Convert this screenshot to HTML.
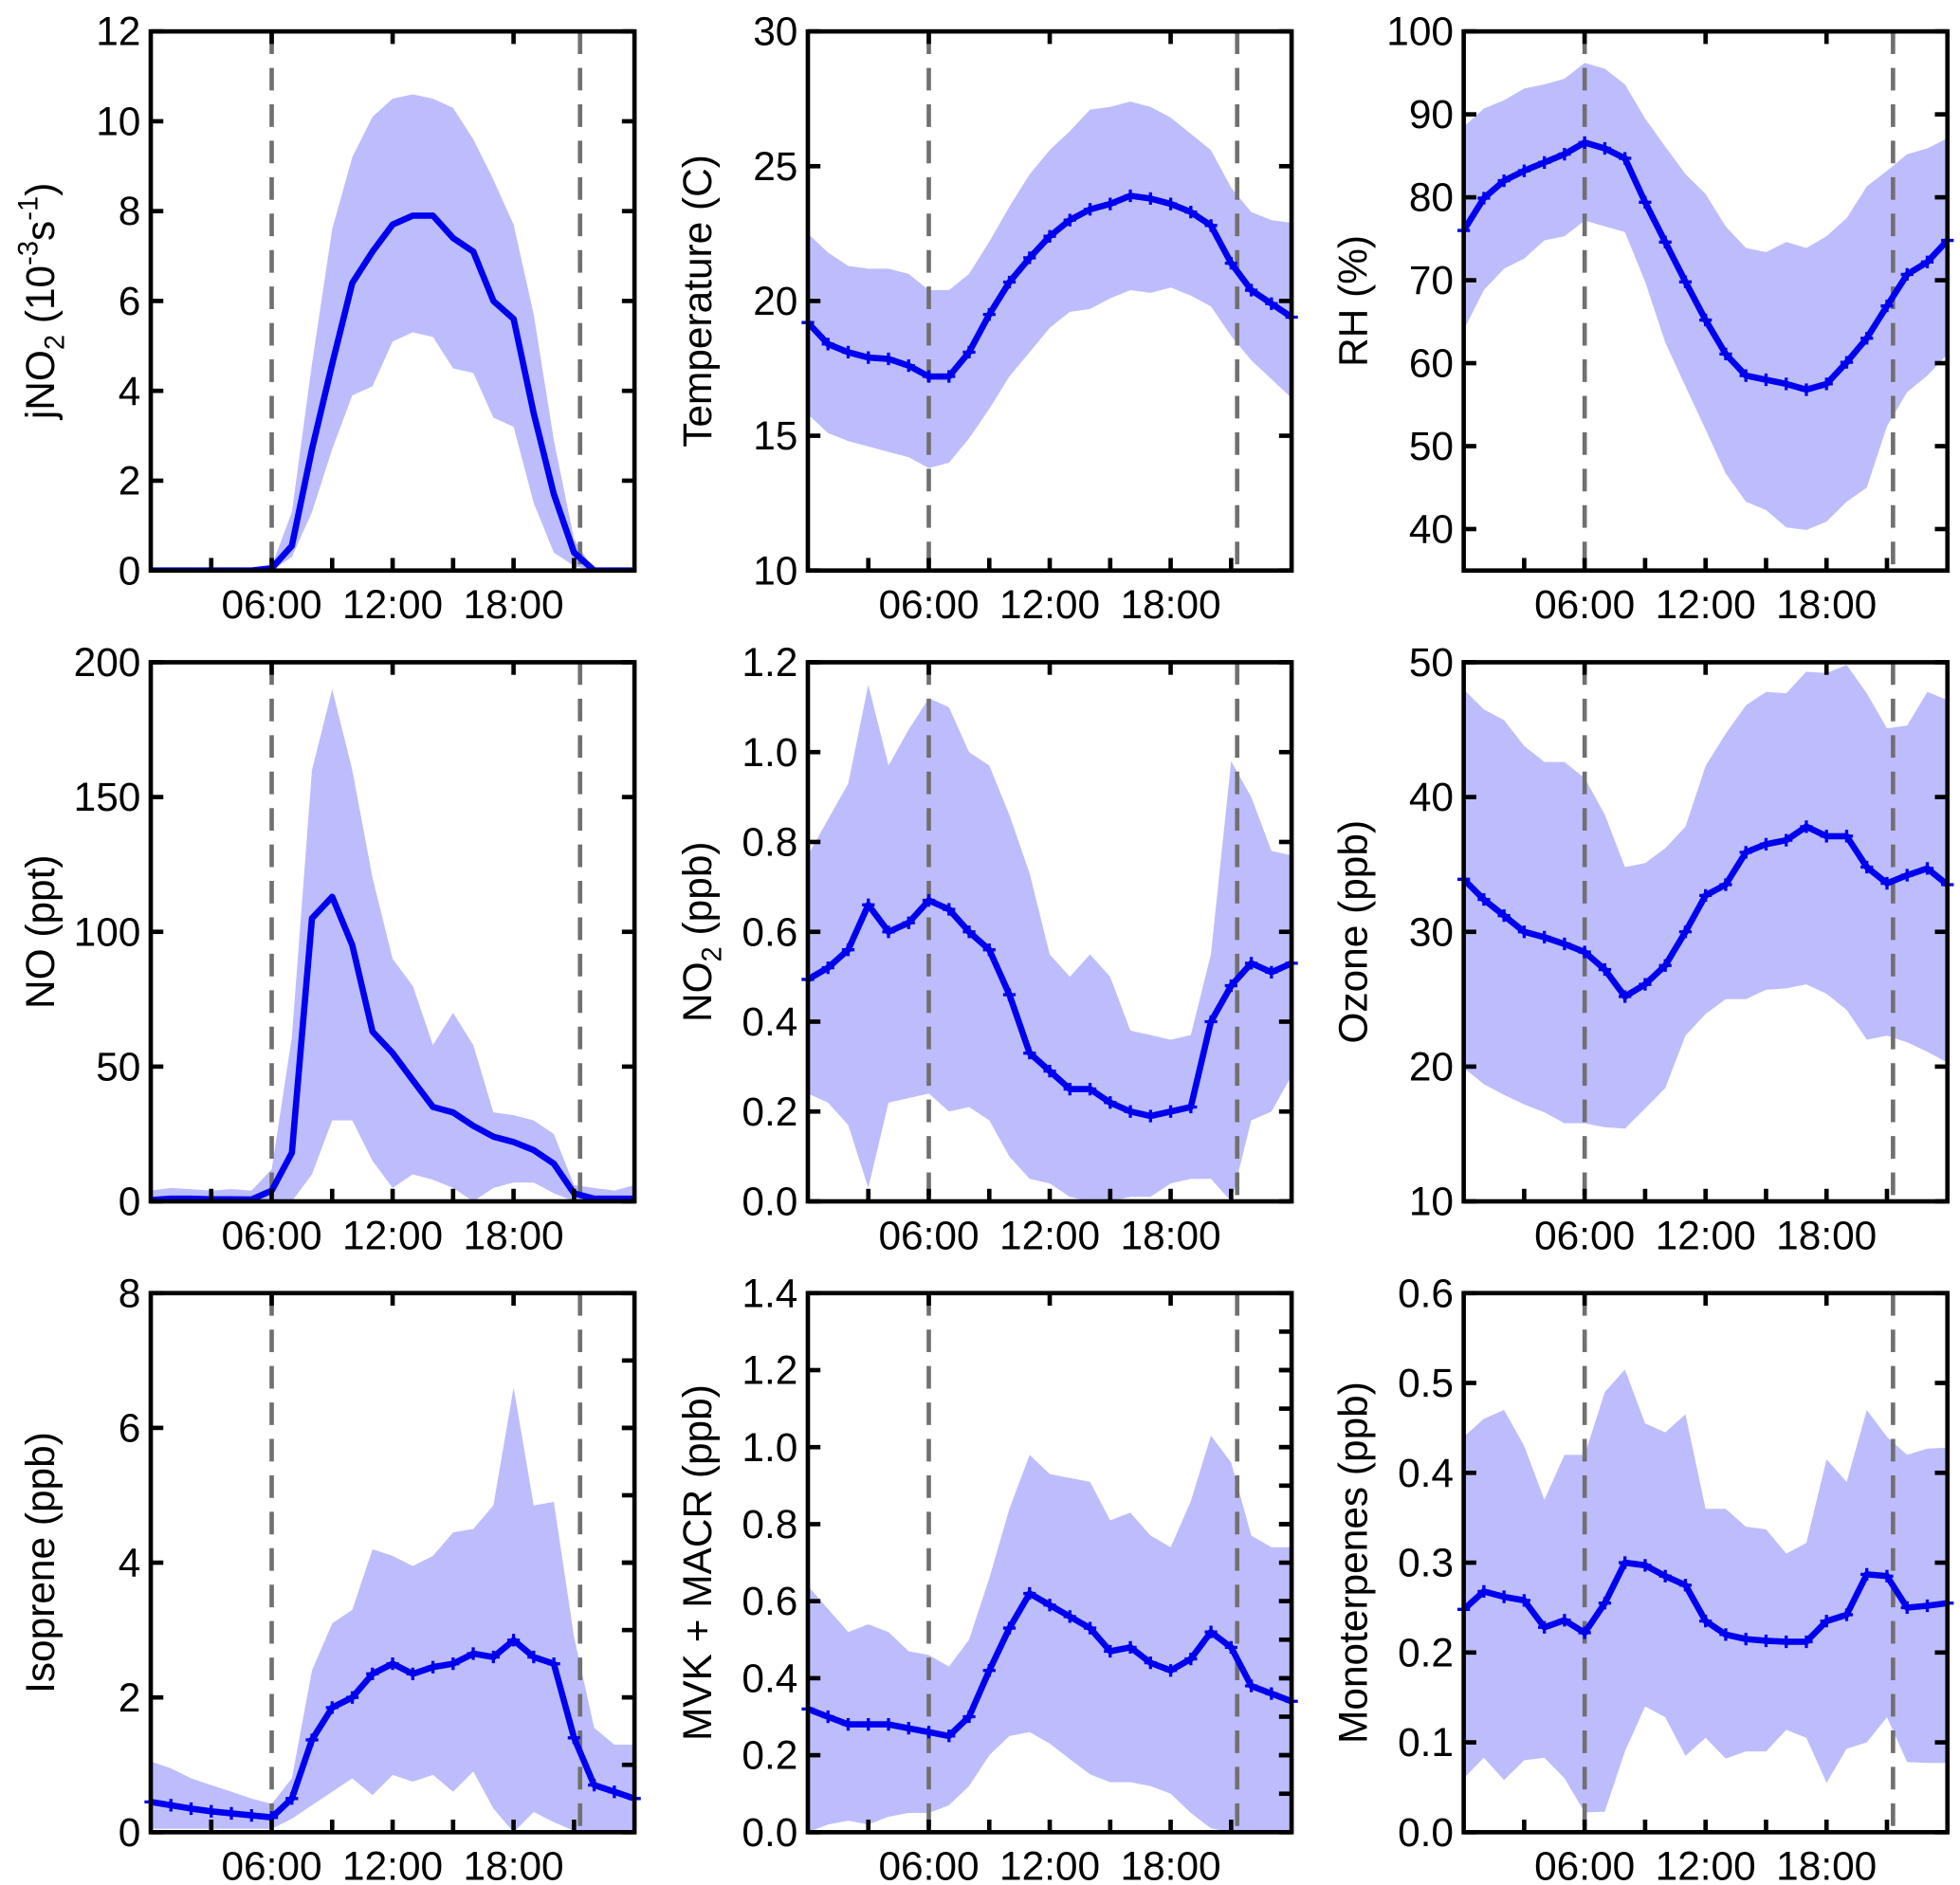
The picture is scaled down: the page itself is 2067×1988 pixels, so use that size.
<!DOCTYPE html>
<html><head><meta charset="utf-8"><title>Diurnal profiles</title>
<style>
html,body{margin:0;padding:0;background:#fff;}
svg{display:block;}
text{font-family:"Liberation Sans",Arial,sans-serif;fill:#000;}
</style></head>
<body>
<svg id="fig" xmlns="http://www.w3.org/2000/svg" width="2067" height="1988" viewBox="0 0 1560 1500" preserveAspectRatio="none"></svg>
<script>
// ---- data (hourly, 0..24 h) ----
const hours = [0,1,2,3,4,5,6,7,8,9,10,11,12,13,14,15,16,17,18,19,20,21,22,23,24];
const xTickLabels = ["06:00","12:00","18:00"];
const xTickHours = [6,12,18];
const sunLines = [6.0, 21.3];

const jno2Mean = [0,0,0,0,0,0,0.05,0.55,2.7,4.6,6.4,7.1,7.7,7.9,7.9,7.4,7.1,6.0,5.6,3.5,1.7,0.4,0,0,0];
const jno2Up   = [0,0,0,0,0,0,0.1,1.3,4.6,7.6,9.2,10.1,10.5,10.6,10.5,10.3,9.6,8.7,7.7,5.7,2.9,0.7,0,0,0];
const jno2Lo   = [0,0,0,0,0,0,0,0.3,1.3,2.7,3.9,4.1,5.1,5.3,5.2,4.5,4.4,3.4,3.2,1.5,0.4,0.1,0,0,0];

const tempMean = [19.2,18.4,18.1,17.9,17.85,17.6,17.2,17.2,18.1,19.5,20.7,21.6,22.4,23.0,23.4,23.6,23.9,23.8,23.6,23.3,22.8,21.4,20.4,19.9,19.4];
const tempUp   = [22.5,21.8,21.3,21.2,21.2,21.0,20.4,20.4,21.0,22.2,23.5,24.7,25.6,26.3,27.1,27.2,27.4,27.2,26.8,26.2,25.6,24.2,23.3,23.0,22.9];
const tempLo   = [15.8,15.1,14.8,14.6,14.4,14.2,13.8,14.0,14.9,16.0,17.2,18.1,19.0,19.6,19.7,20.1,20.4,20.3,20.5,20.2,19.8,18.7,17.8,17.1,16.4];

const rhMean = [76.0,79.9,82.0,83.2,84.2,85.2,86.6,85.9,84.7,79.4,74.6,69.8,65.2,61.1,58.5,58.0,57.5,56.8,57.5,60.1,63.0,66.9,70.7,72.2,74.8];
const rhUp   = [88.5,90.7,91.7,93.1,93.6,94.3,96.2,95.5,93.6,89.5,86.1,82.8,80.4,76.5,73.9,73.4,74.6,73.9,75.3,77.5,81.3,83.2,85.2,85.9,87.1];
const rhLo   = [64.0,68.8,71.4,72.6,74.8,75.3,77.2,76.5,75.8,69.8,62.5,57.2,52.0,46.7,43.3,42.3,40.2,39.9,40.9,43.3,45.0,52.4,56.5,58.5,61.1];

const noMean = [0.5,1,1,0.8,0.8,0.7,4,18,105,113,95,63,55,45,35,33,28,24,22,19,14,3,1,1,1];
const noUp   = [4,5,4.5,4,4.5,4,12,61,160,190,160,120,90,80,58,70,58,33,32,30,25,6,5,4,6];
const noLo   = [0,0,0,0,0,0,0,0,10,30,30,15,5,10,8,5,0,5,7,7,3,0,0,0,0];

const no2Mean = [0.494,0.52,0.56,0.66,0.60,0.62,0.67,0.65,0.60,0.56,0.46,0.33,0.29,0.25,0.25,0.22,0.20,0.19,0.20,0.21,0.40,0.48,0.53,0.51,0.53];
const no2Up   = [0.77,0.85,0.93,1.15,0.97,1.05,1.12,1.10,1.0,0.97,0.86,0.73,0.55,0.50,0.55,0.50,0.38,0.37,0.36,0.37,0.55,0.98,0.90,0.78,0.77];
const no2Lo   = [0.24,0.22,0.17,0.03,0.22,0.23,0.24,0.20,0.21,0.18,0.10,0.05,0.04,0.01,0.0,0.0,0.01,0.01,0.04,0.05,0.05,0.0,0.18,0.20,0.28];

const o3Mean = [33.9,32.4,31.2,30.0,29.6,29.1,28.5,27.2,25.2,26.1,27.5,30.0,32.7,33.5,35.9,36.5,36.8,37.8,37.1,37.1,34.8,33.6,34.2,34.7,33.5];
const o3Up   = [48.0,46.5,45.7,43.8,42.6,42.6,41.4,38.7,34.8,35.1,36.2,37.8,42.3,44.7,46.8,47.8,47.7,49.3,49.2,49.8,47.7,45.1,45.3,47.8,47.2];
const o3Lo   = [19.9,18.7,17.9,17.2,16.6,15.8,15.8,15.5,15.4,16.9,18.4,22.3,23.9,25.0,25.0,25.7,25.8,26.1,25.4,24.2,22.0,22.3,21.8,21.1,20.3];

const isoMean = [0.45,0.40,0.35,0.31,0.28,0.25,0.22,0.5,1.37,1.85,2.0,2.35,2.5,2.35,2.45,2.5,2.65,2.6,2.85,2.6,2.5,1.4,0.7,0.6,0.5];
const isoUp   = [1.05,0.95,0.8,0.7,0.6,0.5,0.42,0.8,2.4,3.1,3.3,4.2,4.1,3.95,4.1,4.45,4.5,4.85,6.6,4.85,4.9,2.9,1.55,1.3,1.3];
const isoLo   = [0.05,0.05,0.05,0.05,0.05,0.05,0.05,0.2,0.4,0.6,0.8,0.55,0.85,0.75,0.85,0.6,0.9,0.35,0,0.3,0.15,0.02,0,0,0];

const mvkMean = [0.32,0.30,0.28,0.28,0.28,0.27,0.26,0.25,0.30,0.42,0.53,0.62,0.59,0.56,0.53,0.47,0.48,0.44,0.42,0.45,0.52,0.48,0.38,0.36,0.34];
const mvkUp   = [0.64,0.58,0.52,0.54,0.52,0.47,0.46,0.43,0.50,0.66,0.84,0.98,0.93,0.92,0.91,0.81,0.83,0.77,0.74,0.86,1.03,0.96,0.77,0.74,0.74];
const mvkLo   = [0.0,0.02,0.03,0.02,0.04,0.05,0.05,0.07,0.12,0.20,0.25,0.26,0.23,0.19,0.15,0.13,0.13,0.12,0.10,0.05,0.01,0.0,0,0,0];

const mtMean = [0.248,0.268,0.262,0.258,0.228,0.236,0.222,0.255,0.30,0.297,0.285,0.275,0.235,0.22,0.215,0.213,0.212,0.212,0.235,0.242,0.287,0.285,0.25,0.252,0.255];
const mtUp   = [0.44,0.46,0.47,0.43,0.37,0.42,0.42,0.49,0.515,0.455,0.445,0.465,0.36,0.36,0.34,0.337,0.31,0.322,0.415,0.39,0.47,0.44,0.42,0.427,0.428];
const mtLo   = [0.06,0.083,0.058,0.08,0.083,0.06,0.022,0.023,0.09,0.14,0.128,0.085,0.105,0.082,0.09,0.09,0.114,0.105,0.055,0.093,0.1,0.128,0.078,0.077,0.077];

const jno2Ticks = [0,2,4,6,8,10,12];
const tempTicks = [10,15,20,25,30];
const rhTicks = [40,50,60,70,80,90,100];
const noTicks = [0,50,100,150,200];
const no2Ticks = [0,0.2,0.4,0.6,0.8,1.0,1.2];
const o3Ticks = [10,20,30,40,50];
const isoTicks = [0,2,4,6,8];
const mvkTicks = [0,0.2,0.4,0.6,0.8,1.0,1.2,1.4];
const mtTicks = [0,0.1,0.2,0.3,0.4,0.5,0.6];

const NS = "http://www.w3.org/2000/svg";
const svg = document.getElementById("fig");
function mk(tag, attrs, parent){
  const e = document.createElementNS(NS, tag);
  for (const k in attrs) e.setAttribute(k, attrs[k]);
  (parent||svg).appendChild(e);
  return e;
}

const colX = [120, 643, 1165];
const rowY = [25, 527, 1029];
const W = 385, H = 429;
const X0 = 0, X1 = 24;
const FS = 32;

const panels = [
  {id:"jno2", c:0,r:0, mean:jno2Mean, up:jno2Up, lo:jno2Lo, ymin:0, ymax:12, ticks:jno2Ticks, dec:0, markers:false, minor:null, title:"jno2"},
  {id:"temperature", c:1,r:0, mean:tempMean, up:tempUp, lo:tempLo, ymin:10, ymax:30, ticks:tempTicks, dec:0, markers:true, minor:null, title:"Temperature (C)"},
  {id:"rh", c:2,r:0, mean:rhMean, up:rhUp, lo:rhLo, ymin:35, ymax:100, ticks:rhTicks, dec:0, markers:true, minor:null, title:"RH (%)"},
  {id:"no", c:0,r:1, mean:noMean, up:noUp, lo:noLo, ymin:0, ymax:200, ticks:noTicks, dec:0, markers:false, minor:null, title:"NO (ppt)"},
  {id:"no2", c:1,r:1, mean:no2Mean, up:no2Up, lo:no2Lo, ymin:0, ymax:1.2, ticks:no2Ticks, dec:1, markers:true, minor:null, title:"no2"},
  {id:"ozone", c:2,r:1, mean:o3Mean, up:o3Up, lo:o3Lo, ymin:10, ymax:50, ticks:o3Ticks, dec:0, markers:true, minor:null, title:"Ozone (ppb)"},
  {id:"isoprene", c:0,r:2, mean:isoMean, up:isoUp, lo:isoLo, ymin:0, ymax:8, ticks:isoTicks, dec:0, markers:true, minor:1, title:"Isoprene (ppb)"},
  {id:"mvk-macr", c:1,r:2, mean:mvkMean, up:mvkUp, lo:mvkLo, ymin:0, ymax:1.4, ticks:mvkTicks, dec:1, markers:true, minor:0.1, title:"MVK + MACR (ppb)"},
  {id:"monoterpenes", c:2,r:2, mean:mtMean, up:mtUp, lo:mtLo, ymin:0, ymax:0.6, ticks:mtTicks, dec:1, markers:true, minor:null, title:"Monoterpenes (ppb)"}
];

panels.forEach(p => {
  const L = colX[p.c], T = rowY[p.r], R = L + W, B = T + H;
  const xs = h => L + (h - X0) / (X1 - X0) * W;
  const ys = v => B - (v - p.ymin) / (p.ymax - p.ymin) * H;
  const g = mk("g", {});
  
  

  const clipId = "clip-" + p.id;
  const cp = mk("clipPath", {id: clipId}, g);
  mk("rect", {x:L, y:T, width:W, height:H}, cp);

  let d = "";
  hours.forEach((h,i) => { d += (i?"L":"M") + xs(h).toFixed(1) + "," + ys(p.up[i]).toFixed(1); });
  for (let i = hours.length-1; i >= 0; i--) d += "L" + xs(hours[i]).toFixed(1) + "," + ys(p.lo[i]).toFixed(1);
  d += "Z";
  const band = mk("path", {d:d, fill:"#bdbdfd", stroke:"none", "clip-path":"url(#"+clipId+")"}, g);
  
  

  sunLines.forEach((s,k) => {
    const ln = mk("line", {x1:xs(s), x2:xs(s), y1:T, y2:B, stroke:"#707070", "stroke-width":3.5, "stroke-dasharray":"18,11"}, g);
    
    
  });

  let m = "";
  hours.forEach((h,i) => { m += (i?"L":"M") + xs(h).toFixed(1) + "," + ys(p.mean[i]).toFixed(1); });
  const line = mk("path", {d:m, fill:"none", stroke:"#0000f0", "stroke-width":5, "stroke-linejoin":"round", "clip-path":"url(#"+clipId+")"}, g);
  
  
  if (p.markers) {
    hours.forEach((h,i) => {
      const cx = xs(h), cy = ys(p.mean[i]);
      const mkk = mk("path", {d:`M${cx-5},${cy}H${cx+5}M${cx},${cy-5}V${cy+5}`, stroke:"#0000f0", "stroke-width":2.5}, g);
      
      
    });
  }

  const fr = mk("rect", {x:L, y:T, width:W, height:H, fill:"none", stroke:"#000", "stroke-width":3.5}, g);
  
  

  for (let h = 3; h < 24; h += 3) {
    mk("line", {x1:xs(h), x2:xs(h), y1:B, y2:B-10, stroke:"#000", "stroke-width":3.5}, g);
    if (h % 6 === 0) mk("line", {x1:xs(h), x2:xs(h), y1:T, y2:T+10, stroke:"#000", "stroke-width":3.5}, g);
  }
  xTickLabels.forEach((lab,i) => {
    const t = mk("text", {x:xs(xTickHours[i]), y:B+38, "text-anchor":"middle", "font-size":FS}, g);
    t.textContent = lab;
    
    
  });

  p.ticks.forEach(v => {
    const y = ys(v);
    mk("line", {x1:L, x2:L+10, y1:y, y2:y, stroke:"#000", "stroke-width":3.5}, g);
    mk("line", {x1:R, x2:R-10, y1:y, y2:y, stroke:"#000", "stroke-width":3.5}, g);
    const t = mk("text", {x:L-8, y:y+11, "text-anchor":"end", "font-size":FS}, g);
    t.textContent = v.toFixed(p.dec);
    
    
  });
  if (p.minor) {
    for (let v = p.ymin + p.minor; v < p.ymax - 1e-9; v += p.minor) {
      mk("line", {x1:R, x2:R-10, y1:ys(v), y2:ys(v), stroke:"#000", "stroke-width":3.5}, g);
    }
  }

  const tx = L - 77, ty = T + H/2;
  const tt = mk("text", {x:tx, y:ty, "text-anchor":"middle", "font-size":FS, transform:`rotate(-90 ${tx} ${ty})`}, g);
  
  
  if (p.title === "jno2") {
    tt.innerHTML = 'jNO<tspan font-size="22" dy="8">2</tspan><tspan dy="-8"> (10</tspan><tspan font-size="22" dy="-13">-3</tspan><tspan dy="13">s</tspan><tspan font-size="22" dy="-13">-1</tspan><tspan dy="13">)</tspan>';
  } else if (p.title === "no2") {
    tt.innerHTML = 'NO<tspan font-size="22" dy="8">2</tspan><tspan dy="-8"> (ppb)</tspan>';
  } else {
    tt.textContent = p.title;
  }
});
</script>
</body></html>
